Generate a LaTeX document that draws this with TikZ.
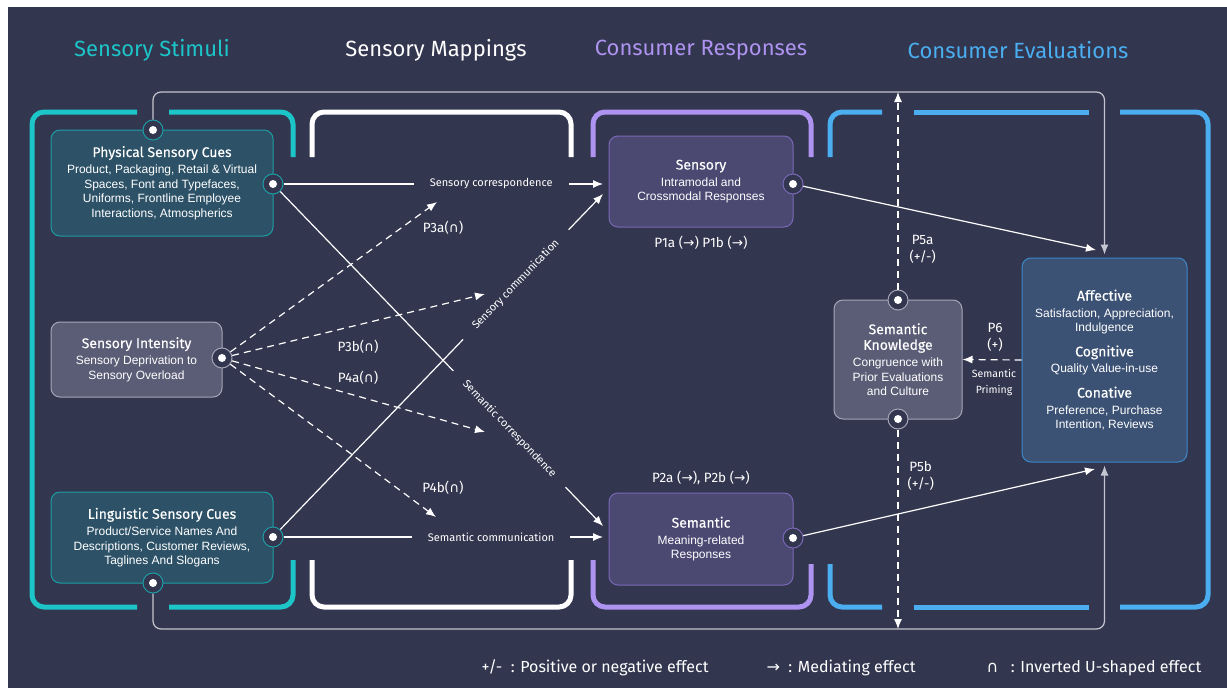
\documentclass[tikz,border=0pt]{standalone}
\usepackage{fontspec}
\setmainfont{Liberation Sans}
\newfontfamily\headfont{Fira Sans}
\newfontfamily\titlefont{Fira Sans}[FakeBold=0.35]
\newfontfamily\symfont{DejaVu Sans}
\usepackage{tikz}
\usetikzlibrary{arrows.meta}

\definecolor{bgnavy}{HTML}{33364F}
\definecolor{stimteal}{HTML}{1CC5C8}
\definecolor{resppurple}{HTML}{AE93F0}
\definecolor{evalblue}{HTML}{4AAEF0}
\definecolor{cuefill}{HTML}{2D5268}
\definecolor{cueline}{HTML}{1E9CA3}
\definecolor{grayfill}{HTML}{5B5D76}
\definecolor{grayline}{HTML}{A4A6B8}
\definecolor{respfill}{HTML}{4B4872}
\definecolor{respline}{HTML}{7A68B6}
\definecolor{evalfill}{HTML}{3C5275}
\definecolor{evalline}{HTML}{3B87C8}
\definecolor{loopgray}{HTML}{C4C5D0}

\newcommand{\bodyfont}{\fontsize{12}{14.6}\selectfont}
\newcommand{\boxtitle}[1]{{\titlefont\fontsize{14}{17.5}\selectfont #1}}
\newcommand{\invU}{{\symfont ∩}}
\newcommand{\medarr}{{\symfont →}}

\begin{document}
\begin{tikzpicture}[x=1pt,y=-1pt]
\tikzset{panel/.style = {draw, rounded corners=9pt, line width=1pt, align=center, inner sep=2pt, font=\bodyfont, text=white}}
\tikzset{cuebox/.style = {panel, fill=cuefill, draw=cueline, minimum width=222pt}}
\tikzset{graybox/.style = {panel, fill=grayfill, draw=grayline}}
\tikzset{respbox/.style = {panel, fill=respfill, draw=respline, minimum width=184pt, minimum height=91pt}}
\tikzset{evalbox/.style = {panel, fill=evalfill, draw=evalline}}
\tikzset{dotport/.style = {circle, draw=#1, fill=bgnavy, line width=1pt, minimum size=20pt, inner sep=0pt,
  path picture={\fill[white] (path picture bounding box.center) circle (4pt);}}}
\tikzset{arrowline/.style = {->, > = {Latex[length=10pt,width=8pt]}, draw=white, line width=1.2pt}}
\tikzset{dashline/.style = {arrowline, dash pattern=on 7pt off 5pt}}
\tikzset{loopline/.style = {->, > = {Latex[length=10pt,width=8pt]}, draw=loopgray, line width=1.2pt, rounded corners=8pt}}
\tikzset{bracketline/.style = {line width=5pt, rounded corners=12pt}}
\tikzset{heading/.style = {font=\headfont\fontsize{22}{26}\selectfont}}
\tikzset{lbl/.style = {fill=bgnavy, text=white, font=\headfont\fontsize{11}{13}\selectfont, inner xsep=16pt, inner ysep=2pt}}
\tikzset{plabel/.style = {text=white, font=\headfont\fontsize{13.5}{17}\selectfont, align=center}}
\tikzset{legend/.style = {text=white, font=\headfont\fontsize{16}{19}\selectfont, anchor=west}}

% background
\fill[white] (0,0) rectangle (1227,688);
\fill[bgnavy] (8,7) rectangle (1227,688);

% headings
\node[heading, text=stimteal] (hStim) at (152,50) {Sensory Stimuli};
\node[heading, text=white] (hMap) at (436,50) {Sensory Mappings};
\node[heading, text=resppurple] (hResp) at (701,50) {Consumer Responses};
\node[heading, text=evalblue] (hEval) at (1018,50) {Consumer Evaluations};

% brackets
\draw[bracketline, stimteal] (137,112) -- (32,112) -- (32,607) -- (137,607);
\draw[bracketline, stimteal] (169,112) -- (293,112) -- (293,157);
\draw[bracketline, stimteal] (169,607) -- (293,607) -- (293,560);
\draw[bracketline, white] (312,157) -- (312,112) -- (571,112) -- (571,157);
\draw[bracketline, white] (312,560) -- (312,607) -- (571,607) -- (571,560);
\draw[bracketline, resppurple] (593,157) -- (593,112) -- (811,112) -- (811,157);
\draw[bracketline, resppurple] (593,560) -- (593,607) -- (811,607) -- (811,564);
\draw[bracketline, evalblue] (830,157) -- (830,112) -- (882,112);
\draw[bracketline, evalblue] (914,112) -- (1089,112);
\draw[bracketline, evalblue] (1120,112) -- (1208,112) -- (1208,607) -- (1120,607);
\draw[bracketline, evalblue] (1089,607) -- (914,607);
\draw[bracketline, evalblue] (882,607) -- (830,607) -- (830,564);

% vertices
\node[cuebox, minimum height=106pt] (phys) at (162,183) {\boxtitle{Physical Sensory Cues}\\[2pt]
  Product, Packaging, Retail \& Virtual\\ Spaces, Font and Typefaces,\\
  Uniforms, Frontline Employee\\ Interactions, Atmospherics};
\node[graybox, minimum width=171pt, minimum height=75pt] (inten) at (136.5,359.5) {\boxtitle{Sensory Intensity}\\[2pt]
  Sensory Deprivation to\\ Sensory Overload};
\node[cuebox, minimum height=91pt] (ling) at (162,537.5) {\boxtitle{Linguistic Sensory Cues}\\[2pt]
  Product/Service Names And\\ Descriptions, Customer Reviews,\\ Taglines And Slogans};
\node[respbox] (sens) at (701,181.5) {\boxtitle{Sensory}\\[2pt] Intramodal and\\ Crossmodal Responses};
\node[respbox, minimum height=92pt] (sem) at (701,539) {\boxtitle{Semantic}\\[2pt] Meaning-related\\ Responses};
\node[graybox, minimum width=128pt, minimum height=119pt] (know) at (898,359.5) {\boxtitle{Semantic}\\[1pt] \boxtitle{Knowledge}\\[2pt]
  Congruence with\\ Prior Evaluations\\ and Culture};
\node[evalbox, minimum width=165pt, minimum height=204pt] (affect) at (1104.5,360) {\boxtitle{Affective}\\[2pt]
  Satisfaction, Appreciation,\\ Indulgence\\[10pt] \boxtitle{Cognitive}\\[2pt] Quality Value-in-use\\[10pt]
  \boxtitle{Conative}\\[2pt] Preference, Purchase\\ Intention, Reviews};

% ports
\node[dotport=cueline] (physT) at (153,130) {};
\node[dotport=cueline] (physR) at (273,184) {};
\node[dotport=grayline] (intenR) at (222,358) {};
\node[dotport=cueline] (lingR) at (273,537) {};
\node[dotport=cueline] (lingB) at (153,583) {};
\node[dotport=respline] (sensR) at (793,184) {};
\node[dotport=respline] (semR) at (793,538) {};
\node[dotport=grayline] (knowT) at (898,300) {};
\node[dotport=grayline] (knowB) at (898,419) {};

% free ends
\coordinate (topL) at (153,92);
\coordinate (botL) at (153,629);
\coordinate (sensIn) at (603,194);
\coordinate (semIn) at (603,526);
\coordinate (affIn) at (1096,250);
\coordinate (affOut) at (1095,469);
\coordinate (p3aEnd) at (437,202);
\coordinate (p3bEnd) at (485,294);
\coordinate (p4aEnd) at (485,432);
\coordinate (p4bEnd) at (436,517);

%edges
\draw[arrowline] (physR) -- node[lbl, pos=0.65] {Sensory correspondence} (physR -| sensIn);
\draw[arrowline] (physR) -- node[lbl, sloped, pos=0.71] {Semantic correspondence} (semIn);
\draw[arrowline] (lingR) -- node[lbl, sloped, pos=0.73] {Sensory communication} (sensIn);
\draw[arrowline] (lingR) -- node[lbl, pos=0.65] {Semantic communication} (lingR -| semIn);

\draw[dashline] (intenR) -- (p3aEnd);
\draw[dashline] (intenR) -- (p3bEnd);
\draw[dashline] (intenR) -- (p4aEnd);
\draw[dashline] (intenR) -- (p4bEnd);

\draw[arrowline] (sensR) -- (affIn);
\draw[arrowline] (semR) -- (affOut);

\draw[loopline, shorten >=3pt] (physT) -- (topL) -| (affect.north);
\draw[loopline, shorten >=3pt] (lingB) -- (botL) -| (affect.south);

\draw[dashline] (knowT) -- (knowT |- topL);
\draw[dashline] (knowB) -- (knowB |- botL);
\draw[dashline] (affect.west) -- (know.east);

% proposition labels
\node[plabel] (p3a) at (443,228) {P3a(\invU)};
\node[plabel] (p3b) at (358,347) {P3b(\invU)};
\node[plabel] (p4a) at (358,378) {P4a(\invU)};
\node[plabel] (p4b) at (443,488) {P4b(\invU)};
\node[plabel] (p1) at (701,243) {P1a (\medarr) P1b (\medarr)};
\node[plabel] (p2) at (701,478) {P2a (\medarr), P2b (\medarr)};
\node[plabel, anchor=west] (p5a) at (906,249) {P5a\\(+/-)};
\node[plabel, anchor=west] (p5b) at (904,476) {P5b\\(+/-)};
\node[plabel] (p6) at (995,337) {P6\\(+)};
\node[plabel, font=\headfont\fontsize{10.5}{16}\selectfont] (prime) at (994,383) {Semantic\\Priming};

% legend
\node[legend] (legPM) at (478,668) {+/-\ \ : Positive or negative effect};
\node[legend] (legMed) at (763,668) {\medarr\ \ : Mediating effect};
\node[legend] (legInv) at (983,668) {\invU\ \ \ : Inverted U-shaped effect};
\end{tikzpicture}
\end{document}
